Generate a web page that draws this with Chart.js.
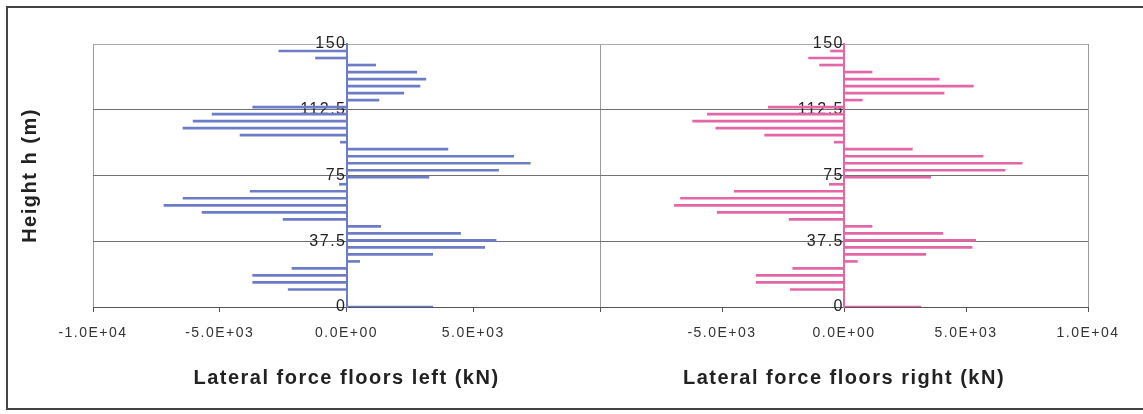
<!DOCTYPE html>
<html>
<head>
<meta charset="utf-8">
<script src="https://cdn.jsdelivr.net/npm/chart.js@4"></script>
<style>
  body { margin: 0; background: #fff; }
  #wrap { position: relative; width: 1143px; height: 414px; overflow: hidden; background: #fff; }
  #frame { position: absolute; left: 6px; top: 6px; width: 1160px; height: 404px; border: 2px solid #444; box-sizing: border-box; }
  #leftBox { position: absolute; left: 0; top: 0; width: 640px; height: 414px; }
  #rightBox { position: absolute; left: 560px; top: 0; width: 583px; height: 414px; }
</style>
</head>
<body>
<div id="wrap">
  <div id="frame"></div>
  <div id="leftBox"><canvas id="leftChart"></canvas></div>
  <div id="rightBox"><canvas id="rightChart"></canvas></div>
</div>
<script>
// floor heights (m) that carry a load
const heights = [0, 10, 14, 18, 22, 26, 30, 34, 38, 42, 46, 50, 54, 58, 62, 66, 70, 74,
  78, 82, 86, 90, 94, 98, 102, 106, 110, 114, 118, 122, 126, 130, 134, 138, 142, 146];

// lateral force per floor (kN)
const forceLeft = [3400, -2300, -3700, -3700, -2150, 520, 3400, 5450, 5900, 4500, 1350,
  -2500, -5700, -7200, -6450, -3800, -280, 3250, 6000, 7250, 6600, 4000, -240, -4200,
  -6450, -6050, -5300, -3700, 1280, 2260, 2900, 3130, 2770, 1150, -1220, -2670];
const forceRight = [3150, -2200, -3600, -3600, -2100, 550, 3350, 5250, 5400, 4050, 1150,
  -2250, -5200, -6950, -6700, -4500, -600, 3550, 6600, 7300, 5700, 2800, -400, -3250,
  -5250, -6200, -5600, -3100, 750, 4100, 5300, 3900, 1150, -1000, -1450, -550];

const heightTicks = [0, 37.5, 75, 112.5, 150];
const forceTicks = [-10000, -5000, 0, 5000, 10000];

const FONT = "'Liberation Sans', Arial, sans-serif";

const sci = v => {
    const [m, e] = v.toExponential(1).split('e');
    const n = String(Math.abs(+e)).padStart(2, '0');
    return m + 'E' + (e[0] === '-' ? '-' : '+') + n;
};

// the scanned original has rather loose lettering
const spacing = {
    id: 'spacing',
    beforeDraw(chart) { chart.ctx.letterSpacing = '1.5px'; }
};

const makeChart = (id, force, color, title, opts) => {
    const scales = {
        x: {
            type: 'linear', min: -10000, max: 10000,
            afterBuildTicks: s => { s.ticks = forceTicks.map(v => ({ value: v })); },
            afterFit: s => { s.height = 107; },
            grid: {
                color: c => (c.tick && Math.abs(c.tick.value) === 10000) ? '#9a9a9a' : 'rgba(0,0,0,0)',
                tickColor: '#555', tickLength: 5
            },
            border: { color: '#555', width: 1 },
            ticks: {
                color: '#333', font: { family: FONT, size: 14 }, padding: 13,
                maxRotation: 0, autoSkip: false,
                callback: v => opts.hide.includes(v) ? '' : sci(v)
            },
            title: {
                display: true, text: title, color: '#222',
                font: { family: FONT, size: 20, weight: 'bold' },
                padding: { top: 0, bottom: 24 }
            }
        },
        y: {
            axis: 'y', type: 'linear', position: { x: 0 }, min: 0, max: 150, z: 1,
            offset: false,
            afterBuildTicks: s => { s.ticks = heightTicks.map(v => ({ value: v })); },
            grid: {
                offset: false,
                color: c => (c.tick && c.tick.value === 150) ? '#aaa' : '#707070',
                tickColor: '#555', tickLength: 6
            },
            border: { color: color, width: 2 },
            ticks: { color: '#222', font: { family: FONT, size: 16 }, padding: 4 }
        }
    };
    if (opts.yTitle) {
        scales.yt = {
            axis: 'y', type: 'linear', position: 'left', min: 0, max: 1,
            afterFit: s => { s.width = 93; },
            grid: { display: false }, border: { display: false }, ticks: { display: false },
            title: {
                display: true, text: opts.yTitle, color: '#222',
                font: { family: FONT, size: 20, weight: 'bold' },
                padding: { top: 18, bottom: 0 }
            }
        };
    }
    return new Chart(document.getElementById(id), {
        type: 'bar',
        data: {
            datasets: [{
                data: heights.map((h, i) => ({ x: force[i], y: h })),
                xAxisID: 'x', yAxisID: 'y',
                backgroundColor: color, borderWidth: 0,
                barThickness: 2
            }]
        },
        options: {
            indexAxis: 'y',
            responsive: true, maintainAspectRatio: false, animation: false,
            layout: { padding: opts.padding },
            plugins: { legend: { display: false }, tooltip: { enabled: false } },
            scales: scales
        },
        plugins: [spacing]
    });
};

makeChart('leftChart', forceLeft, '#6d7cc6', 'Lateral force floors left (kN)', {
    hide: [10000], yTitle: 'Height h (m)',
    padding: { left: 0, right: 40, top: 44, bottom: 0 }
});
makeChart('rightChart', forceRight, '#e366a6', 'Lateral force floors right (kN)', {
    hide: [-10000],
    padding: { left: 40, right: 55, top: 44, bottom: 0 }
});
</script>
</body>
</html>
